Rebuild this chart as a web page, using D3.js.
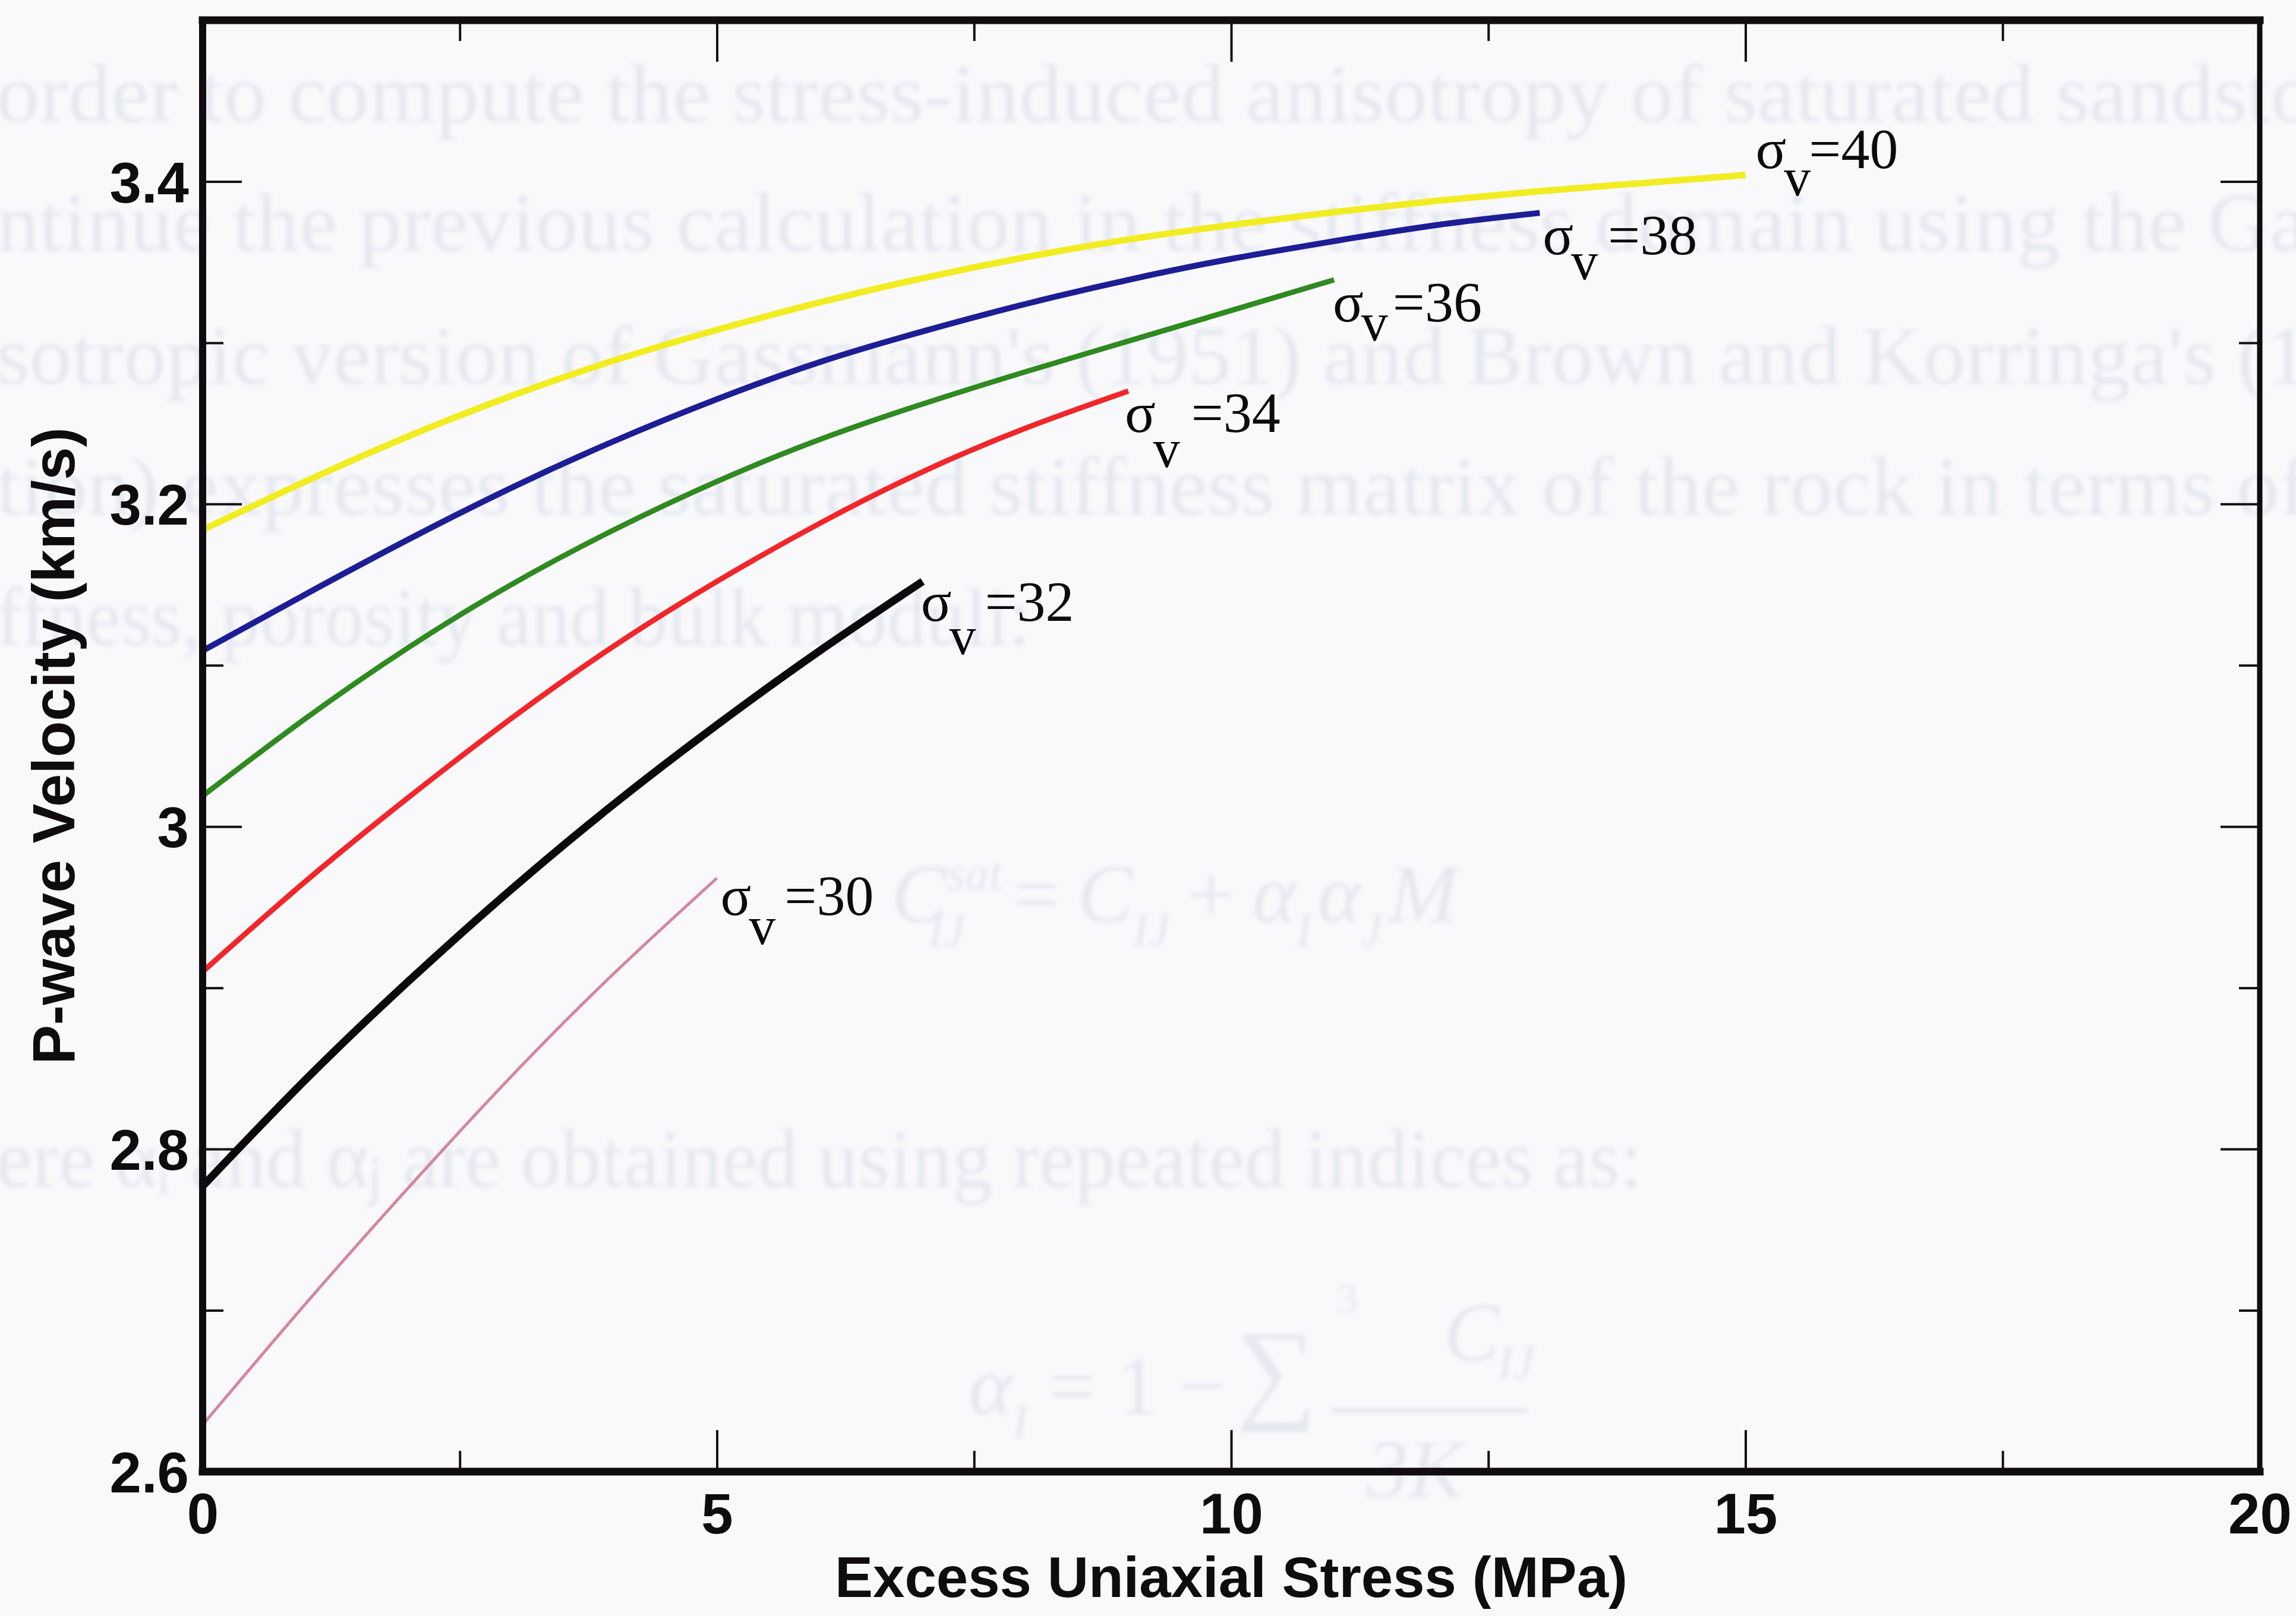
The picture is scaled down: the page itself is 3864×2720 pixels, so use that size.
<!DOCTYPE html>
<html>
<head>
<meta charset="utf-8">
<script src="https://cdn.jsdelivr.net/npm/d3@7"></script>
<style>
  html, body { margin: 0; padding: 0; background: #f9f9fc; }
  svg { display: block; }
</style>
</head>
<body>
<svg id="chart" width="3864" height="2720"></svg>
<script>
// P-wave velocity of a saturated sandstone versus excess uniaxial stress,
// one curve per vertical stress level (MPa).
const sigmaV = [40, 38, 36, 34, 32, 30];

const stress40 = [0, 1, 2, 3, 4, 5, 6, 7, 8, 9, 10, 11, 12, 13, 14, 15];
const velocity40 = [3.184, 3.214, 3.242, 3.267, 3.289, 3.308, 3.325, 3.340, 3.353, 3.364, 3.373, 3.381, 3.388, 3.394, 3.399, 3.404];

const stress38 = [0, 1, 2, 3, 4, 5, 6, 7, 8, 9, 10, 11, 12, 13];
const velocity38 = [3.109, 3.144, 3.178, 3.210, 3.239, 3.265, 3.288, 3.307, 3.324, 3.339, 3.352, 3.363, 3.373, 3.3805];

const stress36 = [0, 1, 2, 3, 4, 5, 6, 7, 8, 9, 10, 11];
const velocity36 = [3.019, 3.067, 3.111, 3.150, 3.184, 3.214, 3.240, 3.262, 3.282, 3.301, 3.320, 3.339];

const stress34 = [0, 1, 2, 3, 4, 5, 6, 7, 8, 9];
const velocity34 = [2.910, 2.966, 3.018, 3.067, 3.112, 3.152, 3.188, 3.220, 3.247, 3.270];

const stress32 = [0, 1, 2, 3, 4, 5, 6, 7];
const velocity32 = [2.777, 2.843, 2.904, 2.961, 3.014, 3.063, 3.109, 3.152];

const stress30 = [0, 1, 2, 3, 4, 5];
const velocity30 = [2.629, 2.704, 2.776, 2.845, 2.909, 2.968];

const xMajorTicks = [0, 5, 10, 15, 20];
const xMinorTicks = [2.5, 7.5, 12.5, 17.5];
const yMajorTicks = [2.6, 2.8, 3.0, 3.2, 3.4];
const yMinorTicks = [2.7, 2.9, 3.1, 3.3];

const xTitle = "Excess Uniaxial Stress (MPa)";
const yTitle = "P-wave Velocity (km/s)";

// ---- drawing styles ----
const seriesStyle = [
  { color: "#f1ed22", width: 11 },
  { color: "#1d1d95", width: 10 },
  { color: "#2f8a20", width: 9 },
  { color: "#f1262b", width: 9 },
  { color: "#0b090b", width: 13 },
  { color: "#d4879b", width: 5 }
];
// label placement relative to each curve's end point
const labelLayout = [
  { dx: 17, dy: -12, sub: 46, gap: -3 },
  { dx: 5,  dy: 70,  sub: 42, gap: 17 },
  { dx: -2, dy: 70,  sub: 32, gap: 8 },
  { dx: -6, dy: 69,  sub: 59, gap: 19 },
  { dx: -3, dy: 66,  sub: 56, gap: 15 },
  { dx: 6,  dy: 62,  sub: 49, gap: 15 }
];

const series = [
  { s: sigmaV[0], x: stress40, v: velocity40 },
  { s: sigmaV[1], x: stress38, v: velocity38 },
  { s: sigmaV[2], x: stress36, v: velocity36 },
  { s: sigmaV[3], x: stress34, v: velocity34 },
  { s: sigmaV[4], x: stress32, v: velocity32 },
  { s: sigmaV[5], x: stress30, v: velocity30 }
].map((d, i) => ({
  ...d,
  points: d.x.map((xv, j) => [xv, d.v[j]]),
  style: seriesStyle[i],
  layout: labelLayout[i]
}));

const svg = d3.select("#chart");
const W = 3864, H = 2720;
const plot = { left: 341, right: 3803, top: 34, bottom: 2477 };

svg.append("rect").attr("width", W).attr("height", H).attr("fill", "#f9f9fc");

// faint show-through of the printed page behind the figure
const defs = svg.append("defs");
defs.append("filter").attr("id", "soft")
  .append("feGaussianBlur").attr("stdDeviation", 3.5);

const ghost = svg.append("g")
  .attr("filter", "url(#soft)")
  .attr("fill", "#e6e8f0")
  .style("font-family", "'Liberation Serif', 'Times New Roman', serif")
  .style("font-size", "140px");

const ghostLines = [
  { x: -6, y: 205, t: "order to compute the stress-induced anisotropy of saturated sandsto", w: 3900 },
  { x: -6, y: 422, t: "ntinue the previous calculation in the stiffness domain using the Ga", w: 3890 },
  { x: -6, y: 646, t: "sotropic version of Gassmann's (1951) and Brown and Korringa's (1", w: 3890 },
  { x: -6, y: 866, t: "tion) expresses the saturated stiffness matrix of the rock in terms of", w: 3890 },
  { x: -6, y: 1086, t: "ffness, porosity and bulk moduli:", w: 1740 },
  { x: -6, y: 1998, t: "ere \u03b1\u1d62 and \u03b1\u2c7c are obtained using repeated indices as:", w: 2770 }
];
ghostLines.forEach(g => {
  ghost.append("text")
    .attr("x", g.x).attr("y", g.y)
    .attr("textLength", g.w)
    .attr("lengthAdjust", "spacingAndGlyphs")
    .text(g.t);
});

// equation  C_ij^sat = C_ij + α_i α_j M
const eq1 = ghost.append("text").attr("x", 1500).attr("y", 1552).style("font-style", "italic");
eq1.append("tspan").text("C");
eq1.append("tspan").attr("dy", -55).style("font-size", "80px").text("sat");
eq1.append("tspan").attr("dx", -125).attr("dy", 95).style("font-size", "80px").text("IJ");
eq1.append("tspan").attr("dx", 80).attr("dy", -40).style("font-style", "normal").text("=");
eq1.append("tspan").attr("dx", 30).text("C");
eq1.append("tspan").attr("dy", 40).style("font-size", "80px").text("IJ");
eq1.append("tspan").attr("dx", 30).attr("dy", -40).style("font-style", "normal").text("+");
eq1.append("tspan").attr("dx", 30).text("\u03b1");
eq1.append("tspan").attr("dy", 40).style("font-size", "80px").text("I");
eq1.append("tspan").attr("dx", 10).attr("dy", -40).text("\u03b1");
eq1.append("tspan").attr("dy", 40).style("font-size", "80px").text("J");
eq1.append("tspan").attr("dx", 10).attr("dy", -40).text("M");

// equation  α_i = 1 − Σ C_ij / 3K_s
const eq2 = ghost.append("text").attr("x", 1630).attr("y", 2380).style("font-style", "italic");
eq2.append("tspan").text("\u03b1");
eq2.append("tspan").attr("dy", 40).style("font-size", "80px").text("I");
eq2.append("tspan").attr("dy", -40).style("font-style", "normal").text(" = 1 \u2212");
ghost.append("text").attr("x", 2080).attr("y", 2370).style("font-size", "190px").text("\u2211");
ghost.append("text").attr("x", 2250).attr("y", 2210).style("font-size", "70px").text("3");
ghost.append("text").attr("x", 2430).attr("y", 2290).style("font-style", "italic").text("C");
ghost.append("text").attr("x", 2520).attr("y", 2320).style("font-size", "80px").style("font-style", "italic").text("IJ");
ghost.append("rect").attr("x", 2240).attr("y", 2370).attr("width", 330).attr("height", 8);
ghost.append("text").attr("x", 2300).attr("y", 2520).style("font-style", "italic").text("3K");

// ---- scales ----
const x = d3.scaleLinear().domain([0, 20]).range([plot.left, plot.right]);
const y = d3.scaleLinear().domain([2.6, 3.5]).range([plot.bottom, plot.top]);

const tickFont = "'Liberation Sans', Arial, Helvetica, sans-serif";

function styleAxis(g, strokeW) {
  g.select(".domain").remove();
  g.selectAll(".tick line").attr("stroke", "#141014").attr("stroke-width", strokeW);
  g.selectAll(".tick text")
    .attr("fill", "#0e0c0e")
    .style("font-family", tickFont)
    .style("font-weight", "bold")
    .style("font-size", "96px");
}

// bottom axis with labels, ticks pointing inward
svg.append("g").attr("transform", `translate(0,${plot.bottom})`)
  .call(d3.axisBottom(x).tickValues(xMajorTicks).tickSize(-70).tickPadding(36).tickFormat(d3.format("d")))
  .call(g => styleAxis(g, 4));
svg.append("g").attr("transform", `translate(0,${plot.bottom})`)
  .call(d3.axisBottom(x).tickValues(xMinorTicks).tickSize(-35).tickFormat(""))
  .call(g => styleAxis(g, 4));
// top axis ticks
svg.append("g").attr("transform", `translate(0,${plot.top})`)
  .call(d3.axisTop(x).tickValues(xMajorTicks.slice(1, -1)).tickSize(-70).tickFormat(""))
  .call(g => styleAxis(g, 4));
svg.append("g").attr("transform", `translate(0,${plot.top})`)
  .call(d3.axisTop(x).tickValues(xMinorTicks).tickSize(-35).tickFormat(""))
  .call(g => styleAxis(g, 4));

// left axis with labels
svg.append("g").attr("transform", `translate(${plot.left},0)`)
  .call(d3.axisLeft(y).tickValues(yMajorTicks).tickSize(-66).tickPadding(23)
    .tickFormat(d => (Math.abs(d - 3) < 1e-9 ? "3" : d3.format(".1f")(d))))
  .call(g => styleAxis(g, 4))
  .call(g => g.selectAll(".tick text").attr("dy", "0.36em"));
svg.append("g").attr("transform", `translate(${plot.left},0)`)
  .call(d3.axisLeft(y).tickValues(yMinorTicks).tickSize(-35).tickFormat(""))
  .call(g => styleAxis(g, 4));
// right axis ticks
svg.append("g").attr("transform", `translate(${plot.right},0)`)
  .call(d3.axisRight(y).tickValues(yMajorTicks.slice(1)).tickSize(-66).tickFormat(""))
  .call(g => styleAxis(g, 4));
svg.append("g").attr("transform", `translate(${plot.right},0)`)
  .call(d3.axisRight(y).tickValues(yMinorTicks).tickSize(-35).tickFormat(""))
  .call(g => styleAxis(g, 4));

// ---- curves ----
const line = d3.line()
  .x(d => x(d[0]))
  .y(d => y(d[1]))
  .curve(d3.curveNatural);

svg.append("g").selectAll("path.curve")
  .data(series)
  .join("path")
  .attr("class", "curve")
  .attr("d", d => line(d.points))
  .attr("fill", "none")
  .attr("stroke", d => d.style.color)
  .attr("stroke-width", d => d.style.width)
  .attr("stroke-linecap", "butt")
  .attr("stroke-linejoin", "round");

// ---- frame ----
const frame = svg.append("g").attr("stroke", "#100c10").attr("stroke-linecap", "square");
frame.append("line").attr("x1", plot.left).attr("x2", plot.right).attr("y1", plot.top).attr("y2", plot.top).attr("stroke-width", 13);
frame.append("line").attr("x1", plot.left).attr("x2", plot.right).attr("y1", plot.bottom).attr("y2", plot.bottom).attr("stroke-width", 13);
frame.append("line").attr("x1", plot.left).attr("x2", plot.left).attr("y1", plot.top).attr("y2", plot.bottom).attr("stroke-width", 12);
frame.append("line").attr("x1", plot.right).attr("x2", plot.right).attr("y1", plot.top).attr("y2", plot.bottom).attr("stroke-width", 9);

// ---- curve labels  σv=.. ----
const labels = svg.append("g")
  .style("font-family", "'Liberation Serif', 'Times New Roman', serif")
  .style("font-size", "96px")
  .attr("fill", "#0c0a0c");

series.forEach(d => {
  const last = d.points[d.points.length - 1];
  const t = labels.append("text")
    .attr("x", x(last[0]) + d.layout.dx)
    .attr("y", y(last[1]) + d.layout.dy);
  t.append("tspan").text("\u03c3");
  t.append("tspan").attr("dx", -4).attr("dy", d.layout.sub).style("font-size", "90px").text("v");
  t.append("tspan").attr("dx", d.layout.gap).attr("dy", -d.layout.sub).text("=" + d.s);
});

// ---- axis titles ----
svg.append("text")
  .attr("x", (plot.left + plot.right) / 2)
  .attr("y", 2688)
  .attr("text-anchor", "middle")
  .attr("fill", "#0e0c0e")
  .style("font-family", tickFont)
  .style("font-weight", "bold")
  .style("font-size", "96px")
  .text(xTitle);

svg.append("text")
  .attr("transform", `translate(125,${(plot.top + plot.bottom) / 2}) rotate(-90)`)
  .attr("text-anchor", "middle")
  .attr("fill", "#0e0c0e")
  .style("font-family", tickFont)
  .style("font-weight", "bold")
  .style("font-size", "100px")
  .text(yTitle);
</script>
</body>
</html>
